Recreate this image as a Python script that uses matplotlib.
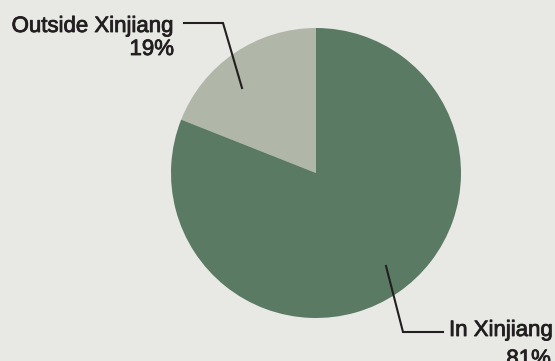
import matplotlib
matplotlib.use("Agg")
import matplotlib.pyplot as plt
import matplotlib.patheffects as pe

labels = ["Outside Xinjiang", "In Xinjiang"]
values = [19, 81]
pct_labels = ["19%", "81%"]
colors = ["#b0b6a8", "#5a7a64"]

W, H = 555, 361
fig = plt.figure(figsize=(W / 100, H / 100), dpi=100)
fig.patch.set_facecolor("#e8e9e5")
ax = fig.add_axes([0, 0, 1, 1])

def Y(y):
    return H - y

ax.pie(values, colors=colors, startangle=90, counterclock=True,
       center=(316, Y(173)), radius=145, frame=True,
       wedgeprops=dict(linewidth=0))
ax.set_xlim(0, W)
ax.set_ylim(0, H)
ax.set_aspect("equal")
ax.axis("off")

tc = "#231f20"
thick = [pe.withStroke(linewidth=0.6, foreground=tc)]
font = dict(family="Liberation Sans", fontsize=16, fontweight="normal", color=tc,
            path_effects=thick)

# Outside Xinjiang label and leader
ax.plot([184, 223, 242], [Y(23), Y(23), Y(88)], color=tc, lw=1.5, solid_joinstyle="miter")
ax.text(174, Y(32), labels[0], ha="right", va="baseline", **font)
ax.text(174, Y(55), pct_labels[0], ha="right", va="baseline", **font)

# In Xinjiang label and leader
ax.plot([386, 403, 443], [Y(266), Y(332), Y(332)], color=tc, lw=1.5, solid_joinstyle="miter")
ax.text(449, Y(336), labels[1], ha="left", va="baseline", **font)
ax.text(551, Y(365), pct_labels[1], ha="right", va="baseline", **font)

fig.savefig("out.png", dpi=100, facecolor=fig.get_facecolor())
